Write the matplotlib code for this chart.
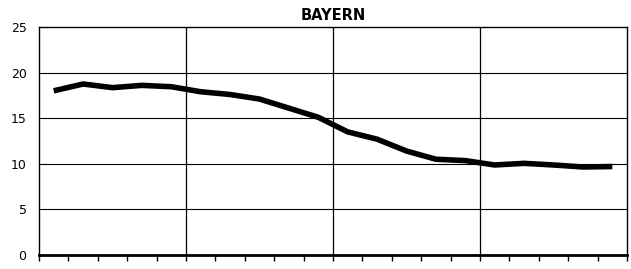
import matplotlib
matplotlib.use("Agg")
import matplotlib.pyplot as plt
from matplotlib.ticker import MultipleLocator

x_positions = [i + 0.5 for i in range(20)]
values = [18.0, 18.75, 18.35, 18.6, 18.45, 17.9, 17.6, 17.1, 16.1, 15.1,
          13.5, 12.7, 11.4, 10.5, 10.35, 9.87, 10.05, 9.87, 9.65, 9.7]
y_ticks = [0, 5, 10, 15, 20, 25]
title = "BAYERN"

fig = plt.figure(figsize=(6.31, 2.69), dpi=100)
ax = fig.add_axes([39/631, 14/269, 588/631, 228/269])
ax.plot(x_positions, values, color="black", linewidth=4.0, solid_capstyle="butt")
ax.set_xlim(0, 20)
ax.set_ylim(0, 25)
ax.set_yticks(y_ticks)
ax.set_yticklabels([str(v) for v in y_ticks], family=["Liberation Sans Narrow", "DejaVu Sans Condensed", "DejaVu Sans"], fontsize=9)
ax.xaxis.set_major_locator(MultipleLocator(1))
ax.set_xticklabels([])
ax.tick_params(axis="x", direction="out", length=4, width=1, color="black")
ax.tick_params(axis="y", length=0, pad=9)
for v in [5, 10, 15, 20]:
    ax.axhline(v, color="black", linewidth=0.8)
for v in [5, 10, 15]:
    ax.axvline(v, color="black", linewidth=0.9)
for s in ["left", "right", "top"]:
    ax.spines[s].set_linewidth(1.0)
ax.spines["bottom"].set_linewidth(2.0)
ax.set_title(title, fontsize=10.5, fontweight="bold", pad=5)
fig.savefig("out.png", dpi=100)
